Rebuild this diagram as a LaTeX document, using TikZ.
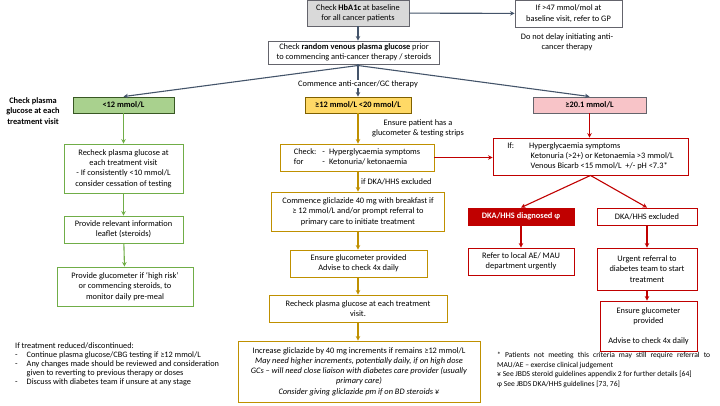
\documentclass[tikz,border=0pt]{standalone}
\usepackage{fontspec}
\setmainfont{Carlito}
\usetikzlibrary{arrows.meta,positioning,calc}
\definecolor{slate}{RGB}{68,84,106}
\definecolor{boxline}{RGB}{100,100,108}
\definecolor{leaf}{RGB}{112,173,71}
\definecolor{leafdark}{RGB}{56,87,35}
\definecolor{leaffill}{RGB}{169,209,142}
\definecolor{gold}{RGB}{191,144,0}
\definecolor{golddark}{RGB}{127,96,0}
\definecolor{goldfill}{RGB}{255,217,102}
\definecolor{alarm}{RGB}{192,0,0}
\definecolor{pinkfill}{RGB}{248,196,200}
\definecolor{greyfill}{RGB}{217,217,217}
\tikzset{box/.style={draw, line width=0.9bp, align=center, inner xsep=0pt, inner ysep=1bp, font=\fontsize{8.4}{10.3}\selectfont}}
\tikzset{wh/.style 2 args={minimum width=#1, minimum height=#2}}
\tikzset{topbox/.style={box, draw=boxline, fill=white}}
\tikzset{gbox/.style={box, draw=leaf, fill=white}}
\tikzset{ybox/.style={box, draw=gold, fill=white}}
\tikzset{rbox/.style={box, draw=alarm, fill=white}}
\tikzset{note/.style={inner sep=0pt, font=\fontsize{8.4}{10.3}\selectfont}}
\tikzset{conn/.style={line width=1.1bp, ->}}

\begin{document}
\begin{tikzpicture}[x=1bp, y=-1bp, >={Stealth[length=4.5bp,width=4.5bp]}]
    \useasboundingbox (0,0) rectangle (720,405);

    % top of the chart
    \node[topbox, fill=greyfill, wh={102bp}{26bp}] (hba) at (358,13) {Check \textbf{HbA1c} at baseline\\for all cancer patients};
    \node[topbox, wh={107bp}{27bp}] (gp) at (568.5,13.5) {If >47 mmol/mol at\\baseline visit, refer to GP};
    \node[note, align=center] (delay) at (567,42) {Do not delay initiating anti-\\cancer therapy};
    \node[topbox, wh={171bp}{23bp}] (rand) at (354,52.5) {Check \textbf{random venous plasma glucose} prior\\to commencing anti-cancer therapy / steroids};
    \node[note] (gc) at (358,84) {Commence anti-cancer/GC therapy};
    \coordinate (split) at (358,65.5);

    % the three glucose bands
    \node[box, draw=leafdark, fill=leaffill, wh={101bp}{16bp}] (low) at (123.5,105) {\textbf{<12 mmol/L}};
    \node[box, draw=golddark, fill=goldfill, wh={106bp}{16bp}] (mid) at (358,105) {\textbf{≥12 mmol/L <20 mmol/L}};
    \node[box, draw=boxline, fill=pinkfill, wh={113bp}{16bp}] (high) at (589.5,105) {\textbf{≥20.1 mmol/L}};
    \node[note, align=center, font=\fontsize{8.4}{10.5}\selectfont\bfseries] (visit) at (33,111) {Check plasma\\glucose at each\\treatment visit};

    % green column
    \node[gbox, wh={119bp}{49bp}] (rc1) at (123.5,168.5) {Recheck plasma glucose at\\each treatment visit\\- If consistently <10 mmol/L\\consider cessation of testing};
    \node[gbox, wh={119bp}{27bp}] (leaf) at (123.5,229.5) {Provide relevant information\\leaflet (steroids)};
    \node[gbox, wh={136bp}{39bp}] (meter) at (125,286.5) {Provide glucometer if `high risk'\\or commencing steroids, to\\monitor daily pre-meal};

    % gold column
    \node[note, align=center] (strips) at (418,128) {Ensure patient has a\\glucometer \& testing strips};
    \node[ybox, wh={154bp}{27bp}] (chk) at (357,157.5) {\begin{tabular}{@{}l@{\hspace{6bp}}l@{\hspace{4bp}}l@{}}Check: & - & Hyperglycaemia symptoms\\for & - & Ketonuria/ ketonaemia\end{tabular}};
    \node[note, anchor=west] (excl) at (361,182) {if DKA/HHS excluded};
    \node[ybox, wh={173bp}{39bp}] (com) at (358,211.5) {Commence gliclazide 40 mg with breakfast if\\≥ 12 mmol/L and/or prompt referral to\\primary care to initiate treatment};
    \node[ybox, wh={137bp}{27bp}] (ens) at (358.5,263.5) {Ensure glucometer provided\\Advise to check 4x daily};
    \node[ybox, wh={178bp}{27bp}] (rec2) at (358,308.5) {Recheck plasma glucose at each treatment\\visit.};
    \node[ybox, wh={242bp}{61bp}] (inc) at (359,371.5) {Increase gliclazide by 40 mg increments if remains ≥12 mmol/L\\\textit{May need higher increments, potentially daily, if on high dose}\\\textit{GCs -- will need close liaison with diabetes care provider (usually}\\\textit{primary care)}\\\textit{Consider giving gliclazide pm if on BD steroids ¥}};

    % red column
    \node[rbox, wh={195bp}{37bp}, align=left] (ifb) at (590.5,156.5) {\begin{tabular}{@{}l@{\hspace{15bp}}l@{}}If: & Hyperglycaemia symptoms\\ & \hspace{1.5bp}Ketonuria (>2+) or Ketonaemia >3 mmol/L\\ & \hspace{1.5bp}Venous Bicarb <15 mmol/L\ \ +/- pH <7.3*\end{tabular}};
    \node[rbox, fill=alarm, text=white, wh={106bp}{17bp}] (dka) at (521,216.5) {\textbf{DKA/HHS diagnosed φ}};
    \node[rbox, wh={100bp}{17bp}] (exc) at (647,216.5) {DKA/HHS excluded};
    \node[rbox, wh={106bp}{27bp}] (ref) at (521,261.5) {Refer to local AE/ MAU\\department urgently};
    \node[rbox, wh={100bp}{42bp}] (urg) at (647,269) {Urgent referral to\\diabetes team to start\\treatment};
    \node[rbox, wh={97bp}{50bp}] (ens2) at (648.5,326) {Ensure glucometer\\provided\\[9bp]Advise to check 4x daily};

    % notes
    \node[note, anchor=north west, align=left, font=\fontsize{8.3}{9.1}\selectfont] (stop) at (15,342) {\begin{tabular}{@{}l@{\hspace{9bp}}l@{}}\multicolumn{2}{@{}l}{If treatment reduced/discontinued:}\\- & Continue plasma glucose/CBG testing if ≥12 mmol/L\\- & Any changes made should be reviewed and consideration\\ & given to reverting to previous therapy or doses\\- & Discuss with diabetes team if unsure at any stage\end{tabular}};
    \node[note, anchor=north west, text width=213bp, align=justify, font=\fontsize{7.6}{9.6}\selectfont] (foot) at (497,352) {* Patients not meeting this criteria may still require referral to\linebreak MAU/AE -- exercise clinical judgement\\¥ See JBDS steroid guidelines appendix 2 for further details [64]\\φ See JBDS DKA/HHS guidelines [73, 76]};

    % connectors
    \draw[conn, slate] (hba) -- (gp);
    \draw[conn, slate] (hba) -- (hba |- rand.north);
    \draw[line width=1.1bp, slate] (rand.south -| split) -- (gc.north);
    \draw[conn, slate] (gc) -- (mid);
    \draw[conn, slate] (split) -- (low.north);
    \draw[conn, slate] (split) -- (high.north);

    \draw[conn, leaf] (low) -- (rc1);
    \draw[conn, leaf] (rc1) -- (leaf);
    \draw[conn, leaf] (leaf) -- (meter);

    \draw[conn, gold] (mid) -- (mid |- chk.north);
    \draw[conn, gold] (chk.south -| mid) -- (mid |- com.north);
    \draw[conn, gold] (com.south -| mid) -- (mid |- ens.north);
    \draw[conn, gold] (ens.south -| mid) -- (mid |- rec2.north);
    \draw[conn, gold] (rec2.south -| mid) -- (mid |- inc.north);

    \draw[conn, alarm] (chk.east) -- (chk.east -| ifb.west);
    \draw[conn, alarm] (high) -- (high |- ifb.north);
    \draw[conn, alarm] (ifb.south) -- (dka.north);
    \draw[conn, alarm] (ifb.south) -- (exc.north);
    \draw[conn, alarm] (dka) -- (ref);
    \draw[conn, alarm] (exc) -- (urg);
    \draw[conn, alarm] (urg) -- (urg |- ens2.north);
\end{tikzpicture}
\end{document}
